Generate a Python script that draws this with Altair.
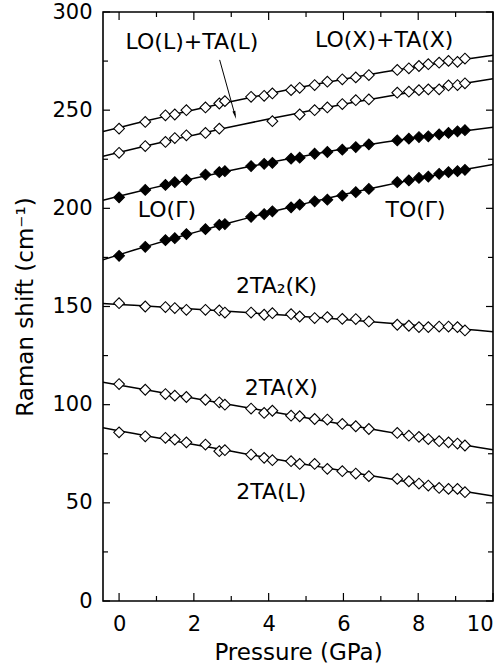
import altair as alt
import pandas as pd

# ---------------- data ----------------
pressure = [0, 0.70, 1.24, 1.49, 1.80, 2.31, 2.68, 2.83, 3.53, 3.88, 4.10, 4.60, 4.83,
            5.23, 5.57, 5.97, 6.33, 6.68, 7.44, 7.75, 8.02, 8.27, 8.56, 8.81, 9.05, 9.25]

lox_tax = [240.6, 244.0, 247.4, 247.8, 250.0, 251.4, 253.4, 254.6, 256.8, 257.3, 258.5, 260.2, 261.4,
           262.8, 264.5, 265.7, 266.7, 267.9, 270.5, 271.3, 272.5, 273.4, 274.2, 275.1, 274.6, 276.3]
lol_tal = [228.3, 231.7, 233.8, 235.8, 237.2, 238.4, 240.6, None, None, None, 244.4, None, 247.8,
           250.0, 251.4, 253.1, 255.1, 255.5, 258.9, 259.4, 260.2, 260.6, 260.6, 262.6, 262.8, 263.7]
lo_g = [205.6, 209.4, 211.9, 213.3, 214.5, 217.2, 218.4, 218.9, 221.5, 222.7, 223.2, 225.3, 225.8,
        227.8, 228.7, 229.9, 231.2, 232.6, 234.6, 235.5, 236.3, 236.7, 237.7, 238.4, 239.2, 239.8]
to_g = [175.8, 180.4, 183.8, 184.8, 186.9, 189.4, 191.6, 192.0, 195.7, 197.1, 198.5, 200.5, 201.9,
        203.6, 204.4, 206.5, 208.2, 209.9, 213.3, 214.2, 215.5, 216.2, 217.6, 218.4, 218.9, 219.6]
ta2_k = [151.7, 150.0, 149.7, 149.2, 148.3, 148.3, 148.0, 146.9, 146.9, 145.8, 146.6, 146.1, 144.9,
         144.1, 144.6, 143.7, 143.6, 142.4, 140.7, 140.2, 139.5, 139.5, 139.8, 139.8, 139.5, 137.8]
ta_x = [110.5, 107.6, 105.4, 104.6, 103.9, 102.5, 101.2, 100.0, 98.0, 95.8, 96.9, 94.4, 94.1,
        92.7, 92.4, 90.2, 89.0, 87.6, 85.6, 84.2, 83.6, 82.5, 81.4, 80.8, 80.2, 79.2]
ta_l = [85.9, 83.9, 83.1, 82.2, 80.8, 79.7, 76.3, 76.8, 74.6, 72.9, 71.7, 71.2, 69.8,
        69.8, 67.3, 66.1, 64.9, 63.6, 62.2, 61.0, 59.8, 58.8, 57.6, 57.1, 57.1, 55.4]

series_names = ["LOX+TAX", "LOL+TAL", "LOG", "TOG", "2TA2K", "2TAX", "2TAL"]
series_vals = [lox_tax, lol_tal, lo_g, to_g, ta2_k, ta_x, ta_l]
series_filled = [False, False, True, True, False, False, False]

label_text = ["LO(L)+TA(L)", "LO(X)+TA(X)", "LO(Γ)", "TO(Γ)", "2TA₂(K)", "2TA(X)", "2TA(L)"]
label_x = [1.95, 7.09, 1.28, 7.93, 4.21, 4.34, 4.07]
label_y = [284.5, 285.5, 199.4, 199.4, 160.4, 108.5, 55.4]

arrow_x = [2.69]
arrow_y = [275.6]
arrow_x2 = [3.10]
arrow_y2 = [247.5]

x_major = [0, 2, 4, 6, 8, 10]
x_minor = [1, 3, 5, 7, 9]
y_major = [0, 50, 100, 150, 200, 250, 300]
y_minor = [25, 75, 125, 175, 225, 275]

X_DOMAIN = [-0.43, 10]
Y_DOMAIN = [0, 300]
W, H = 390, 589
FONT = "DejaVu Sans"

# ---------------- tables ----------------
rows = []
for name, vals, filled in zip(series_names, series_vals, series_filled):
    for p, v in zip(pressure, vals):
        if v is not None:
            rows.append({"P": p, "shift": v, "series": name, "filled": "yes" if filled else "no"})
df = pd.DataFrame(rows)
labels = pd.DataFrame({"x": label_x, "y": label_y, "text": label_text})
arrow = pd.DataFrame({"x": arrow_x, "y": arrow_y, "x2": arrow_x2, "y2": arrow_y2})

xs = alt.Scale(domain=X_DOMAIN, nice=False, zero=False)
ys = alt.Scale(domain=Y_DOMAIN, nice=False, zero=False)

base = alt.Chart(df)

lines = base.transform_regression(
    "P", "shift", groupby=["series"], method="poly", order=2, extent=X_DOMAIN
).mark_line(color="black", strokeWidth=1.5, clip=True).encode(
    x=alt.X("P:Q", scale=xs,
            axis=alt.Axis(values=x_major, title="Pressure (GPa)", ticks=False, domain=False,
                          grid=False, labelPadding=12, titlePadding=7)),
    y=alt.Y("shift:Q", scale=ys,
            axis=alt.Axis(values=y_major, title="Raman shift (cm⁻¹)", ticks=False, domain=False,
                          grid=False, labelPadding=11, titlePadding=14)),
    detail="series:N",
)

points = base.mark_point(shape="diamond", size=115, strokeWidth=1.1, opacity=1).encode(
    x=alt.X("P:Q", scale=xs),
    y=alt.Y("shift:Q", scale=ys),
    fill=alt.Fill("filled:N", scale=alt.Scale(domain=["yes", "no"], range=["black", "white"]), legend=None),
    stroke=alt.value("black"),
)

text = alt.Chart(labels).mark_text(font=FONT, fontSize=22, color="black", align="center",
                                   baseline="middle").encode(
    x=alt.X("x:Q", scale=xs), y=alt.Y("y:Q", scale=ys), text="text:N")

arrow_line = alt.Chart(arrow).mark_rule(color="black", strokeWidth=1).encode(
    x=alt.X("x:Q", scale=xs), y=alt.Y("y:Q", scale=ys), x2="x2:Q", y2="y2:Q")
arrow_head = alt.Chart(arrow).mark_point(shape="M0,1 L-0.35,-1 L0.35,-1 Z", size=70, filled=True,
                                          color="black", angle=344.5, opacity=1).encode(
    x=alt.X("x2:Q", scale=xs), y=alt.Y("y2:Q", scale=ys))

# inward ticks on all four sides
xmaj = pd.DataFrame({"t": x_major})
xmin = pd.DataFrame({"t": x_minor})
ymaj = pd.DataFrame({"t": y_major})
ymin = pd.DataFrame({"t": y_minor})

def xticks(d, length):
    b = alt.Chart(d).mark_rule(color="black", strokeWidth=1.2)
    bottom = b.encode(x=alt.X("t:Q", scale=xs), y=alt.value(H), y2=alt.value(H - length))
    top = b.encode(x=alt.X("t:Q", scale=xs), y=alt.value(0), y2=alt.value(length))
    return bottom + top

def yticks(d, length):
    b = alt.Chart(d).mark_rule(color="black", strokeWidth=1.2)
    left = b.encode(y=alt.Y("t:Q", scale=ys), x=alt.value(0), x2=alt.value(length))
    right = b.encode(y=alt.Y("t:Q", scale=ys), x=alt.value(W), x2=alt.value(W - length))
    return left + right

ticks = xticks(xmaj, 8) + xticks(xmin, 5) + yticks(ymaj, 7) + yticks(ymin, 5)

chart = alt.layer(lines, points, text, arrow_line, arrow_head, ticks).properties(
    width=W, height=H,
    autosize=alt.AutoSizeParams(type="none"),
    padding={"left": 103, "top": 12, "right": 11, "bottom": 71},
    background="white",
).configure_view(
    stroke="black", strokeWidth=1.6
).configure_axis(
    labelFont=FONT, labelFontSize=21, labelColor="black",
    titleFont=FONT, titleFontSize=23, titleFontWeight="normal", titleColor="black",
)

chart.save("out.html", embed_options={"renderer": "svg", "actions": False})
